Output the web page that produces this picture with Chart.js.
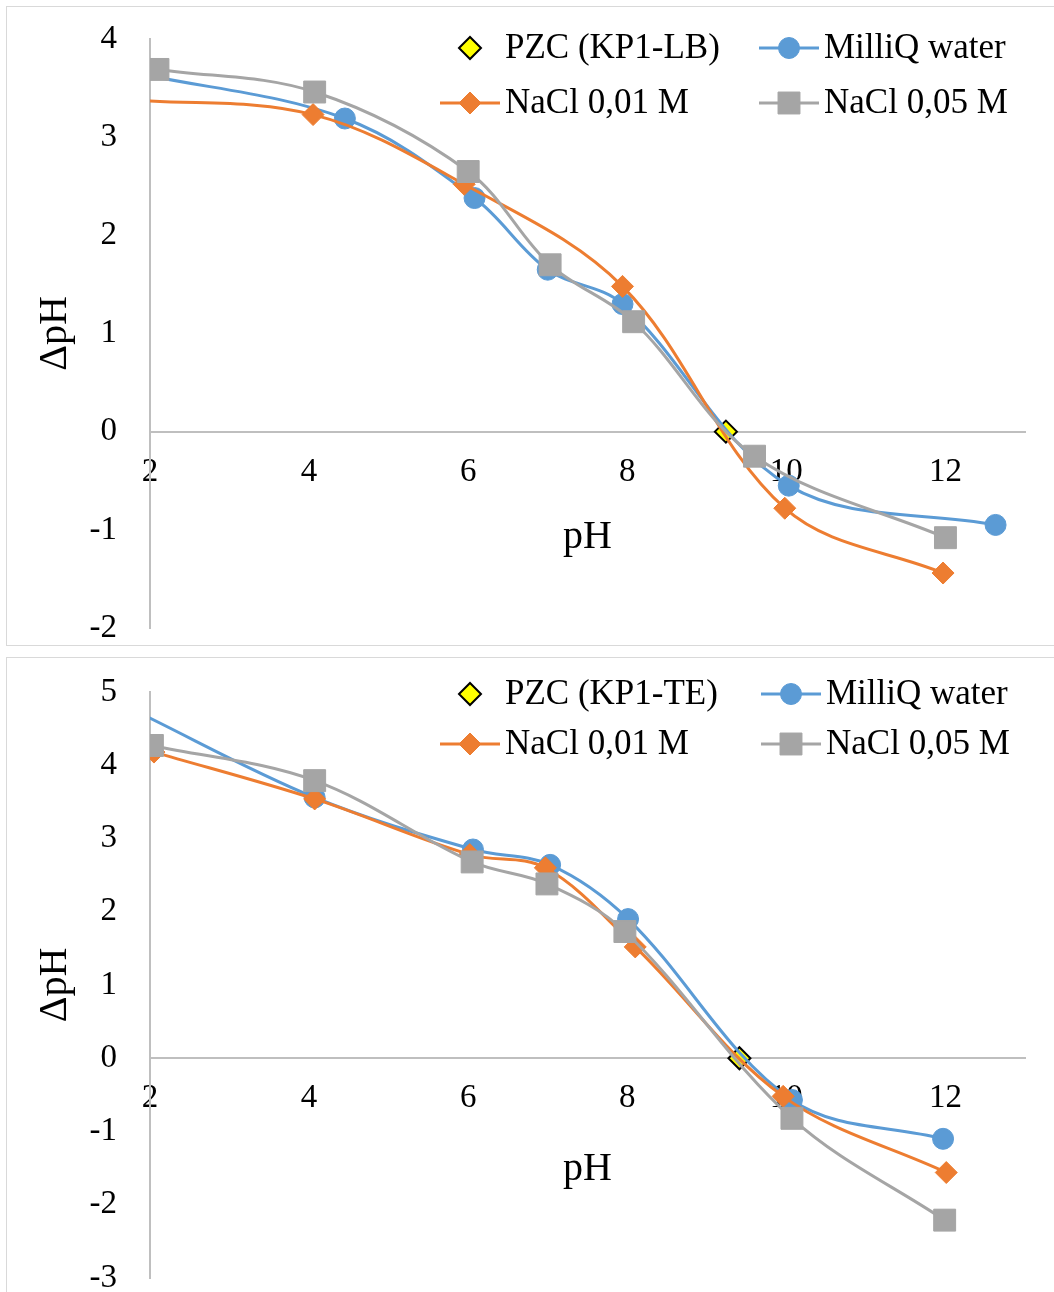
<!DOCTYPE html>
<html>
<head>
<meta charset="utf-8">
<script src="https://cdn.jsdelivr.net/npm/chart.js@4.4.0/dist/chart.umd.min.js"></script>
<style>
  html, body { margin: 0; padding: 0; background: #fff; overflow: hidden; }
  .panel { position: absolute; left: 6px; width: 1070px; border: 1px solid #d9d9d9; box-sizing: border-box; background: #fff; overflow: hidden; }
  #panelLB { top: 6px; height: 640px; }
  #panelTE { top: 657px; height: 700px; }
  .panel canvas { position: absolute; left: 0; }
  #chartLB { top: -28px; }
  #chartTE { top: -26px; }
</style>
</head>
<body>
<div class="panel" id="panelLB"><canvas id="chartLB" width="1047" height="709"></canvas></div>
<div class="panel" id="panelTE"><canvas id="chartTE" width="1047" height="706"></canvas></div>
<script>
const seriesNames = ["MilliQ water", "NaCl 0,01 M", "NaCl 0,05 M"];

// KP1-LB sample
const lbWaterPH = [1.85, 4.45, 6.08, 7.0, 7.94, 10.03, 12.63];
const lbWaterDelta = [3.65, 3.19, 2.38, 1.65, 1.3, -0.55, -0.95];
const lbNaCl01PH = [1.8, 4.05, 5.95, 7.94, 9.98, 11.97];
const lbNaCl01Delta = [3.38, 3.23, 2.52, 1.48, -0.78, -1.44];
const lbNaCl05PH = [2.1, 4.07, 6.0, 7.03, 8.08, 9.6, 12.0];
const lbNaCl05Delta = [3.69, 3.46, 2.65, 1.7, 1.12, -0.25, -1.08];
const lbPzc = [9.24, 0];

// KP1-TE sample
const teWaterPH = [1.8, 4.07, 6.06, 7.03, 8.01, 10.07, 11.97];
const teWaterDelta = [4.75, 3.56, 2.85, 2.64, 1.9, -0.57, -1.1];
const teNaCl01PH = [2.05, 4.07, 6.02, 6.97, 8.1, 9.96, 12.01];
const teNaCl01Delta = [4.18, 3.54, 2.78, 2.6, 1.52, -0.52, -1.56];
const teNaCl05PH = [2.03, 4.07, 6.05, 6.99, 7.97, 10.07, 11.99];
const teNaCl05Delta = [4.27, 3.79, 2.68, 2.38, 1.73, -0.82, -2.21];
const tePzc = [9.41, 0];

const xTicks = [2, 4, 6, 8, 10, 12];

const FONT = "'Liberation Serif', 'Times New Roman', serif";
const X_MIN = 2, X_MAX = 13;

const toPoints = (xs, ys) => xs.map((x, i) => ({ x: x, y: ys[i] }));
// markers left of the plotted range are hidden, the line still enters from the edge
const radiusIn = r => c => (c.raw && c.raw.x < X_MIN ? 0 : r);

function seriesSet(pzcLabel, pzc, water, nacl01, nacl05) {
  return [
    {
      label: pzcLabel, data: [{ x: pzc[0], y: pzc[1] }], showLine: false,
      pointStyle: "rectRot", pointRadius: 11, pointBackgroundColor: "#ffff00",
      pointBorderColor: "#000000", pointBorderWidth: 2, borderColor: "#000000", order: 4,
    },
    {
      label: seriesNames[0], data: water, borderColor: "#5b9bd5", backgroundColor: "#5b9bd5",
      borderWidth: 3, pointStyle: "circle", pointRadius: radiusIn(10.5), pointBackgroundColor: "#5b9bd5",
      pointBorderColor: "#5b9bd5", pointBorderWidth: 1, order: 3,
    },
    {
      label: seriesNames[1], data: nacl01, borderColor: "#ed7d31", backgroundColor: "#ed7d31",
      borderWidth: 3, pointStyle: "rectRot", pointRadius: radiusIn(11), pointBackgroundColor: "#ed7d31",
      pointBorderColor: "#ed7d31", pointBorderWidth: 1, order: 2,
    },
    {
      label: seriesNames[2], data: nacl05, borderColor: "#a5a5a5", backgroundColor: "#a5a5a5",
      borderWidth: 3, pointStyle: "rect", pointRadius: radiusIn(15.5), pointBackgroundColor: "#a5a5a5",
      pointBorderColor: "#a5a5a5", pointBorderWidth: 1, order: 1,
    },
  ];
}

// two-column legend drawn inside the plot, row by row in dataset order
const gridLegend = {
  id: "gridLegend",
  afterDraw(chart, args, opts) {
    const ctx = chart.ctx;
    ctx.save();
    ctx.font = "35px " + FONT;
    ctx.textBaseline = "middle";
    ctx.textAlign = "left";
    chart.data.datasets.forEach((ds, i) => {
      const cx = opts.cols[i % 2];
      const cy = opts.rows[Math.floor(i / 2)];
      if (ds.showLine !== false) {
        ctx.strokeStyle = ds.borderColor;
        ctx.lineWidth = 3;
        ctx.beginPath();
        ctx.moveTo(cx - 30, cy);
        ctx.lineTo(cx + 30, cy);
        ctx.stroke();
      }
      const r = typeof ds.pointRadius === "function" ? ds.pointRadius({ raw: { x: X_MAX } }) : ds.pointRadius;
      ctx.fillStyle = ds.pointBackgroundColor;
      ctx.strokeStyle = ds.pointBorderColor;
      ctx.lineWidth = ds.pointBorderWidth;
      Chart.helpers.drawPoint(ctx, { pointStyle: ds.pointStyle, radius: r, borderWidth: ds.pointBorderWidth, rotation: 0 }, cx, cy);
      ctx.fillStyle = "#000";
      ctx.fillText(ds.label, cx + 35, cy + 1);
    });
    ctx.restore();
  },
};

function makeChart(id, datasets, yMin, yMax, xAxisH, legend) {
  const tickFont = { family: FONT, size: 33, lineHeight: 1 };
  const titleFont = { family: FONT, size: 40, lineHeight: 1.2 };
  return new Chart(document.getElementById(id), {
    type: "scatter",
    data: { datasets: datasets },
    plugins: [gridLegend],
    options: {
      responsive: false,
      animation: false,
      layout: { padding: { left: 0, top: 60, right: 29, bottom: 60 } },
      elements: { line: { borderWidth: 3, tension: 0.35, fill: false } },
      datasets: { scatter: { showLine: true } },
      plugins: {
        legend: { display: false },
        tooltip: { enabled: false },
        gridLegend: legend,
      },
      scales: {
        x: {
          type: "linear",
          min: X_MIN,
          max: X_MAX,
          position: { y: 0 },
          afterFit: (s) => { s.height = xAxisH; },
          afterBuildTicks: (s) => { s.ticks = xTicks.map((v) => ({ value: v })); },
          grid: { display: false, drawTicks: false },
          border: { display: true, color: "#bfbfbf", width: 2 },
          ticks: { padding: 24, color: "#000", font: tickFont, maxRotation: 0 },
          title: { display: true, text: "pH", color: "#000", font: titleFont, padding: 0 },
        },
        y: {
          type: "linear",
          position: "left",
          min: yMin,
          max: yMax,
          afterFit: (s) => { s.width = 143; },
          grid: { display: false, drawTicks: false },
          border: { display: true, color: "#bfbfbf", width: 2 },
          ticks: { stepSize: 1, padding: 33, color: "#000", font: tickFont },
          title: { display: true, text: "ΔpH", color: "#000", font: titleFont, padding: { top: 24, bottom: 0 } },
        },
      },
    },
  });
}

makeChart(
  "chartLB",
  seriesSet("PZC (KP1-LB)", lbPzc,
    toPoints(lbWaterPH, lbWaterDelta),
    toPoints(lbNaCl01PH, lbNaCl01Delta),
    toPoints(lbNaCl05PH, lbNaCl05Delta)),
  -2, 4,
  130,
  { cols: [463, 782], rows: [69, 124] }
);

makeChart(
  "chartTE",
  seriesSet("PZC (KP1-TE)", tePzc,
    toPoints(teWaterPH, teWaterDelta),
    toPoints(teNaCl01PH, teNaCl01Delta),
    toPoints(teNaCl05PH, teNaCl05Delta)),
  -3, 5,
  135,
  { cols: [463, 784], rows: [62, 112] }
);
</script>
</body>
</html>
